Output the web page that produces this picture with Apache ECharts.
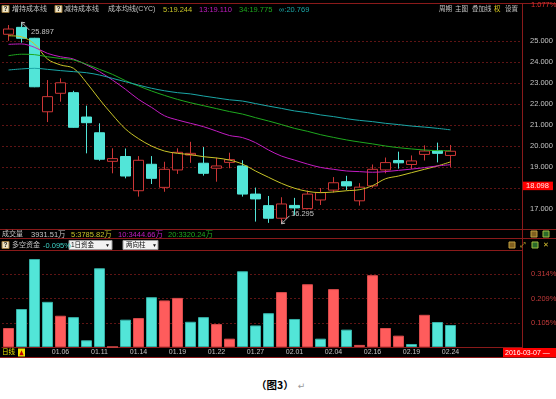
<!DOCTYPE html>
<html>
<head>
<meta charset="utf-8">
<script src="https://cdn.jsdelivr.net/npm/echarts@6.0.0/dist/echarts.min.js"></script>
<style>
body { margin: 0; background: #fff; }
#chart { position: absolute; left: 0; top: 0; width: 556px; height: 358px; }
#caption { position: absolute; left: 256px; top: 378px; font: bold 10.5px "Noto Sans CJK SC"; line-height: 13px; color: #000; white-space: nowrap; }
#caption span { color: #999; font-weight: normal; font-family: "DejaVu Sans"; font-size: 9px; margin-left: 4px; }
</style>
</head>
<body onload="onBodyLoad()">
<div id="chart"></div>
<div id="caption">（图3）<span>↵</span></div>
<script>
var dates = ["12.30", "12.31", "01.04", "01.05", "01.06", "01.07", "01.08", "01.11", "01.12", "01.13",
    "01.14", "01.15", "01.18", "01.19", "01.20", "01.21", "01.22", "01.25", "01.26", "01.27",
    "01.28", "01.29", "02.01", "02.02", "02.03", "02.04", "02.05", "02.15", "02.16", "02.17",
    "02.18", "02.19", "02.22", "02.23", "02.24"]
var emptySlots = 5

var openPrices = [25.32, 25.65, 25.13, 21.63, 22.51, 22.54, 21.38, 20.63, 19.27, 19.50,
    17.87, 19.13, 18.03, 18.86, 19.57, 19.18, 18.94, 19.22, 19.05, 17.71,
    17.16, 16.56, 17.17, 17.02, 17.43, 17.90, 18.30, 17.39, 18.10, 18.86,
    19.31, 19.12, 19.60, 19.78, 19.55]
var closePrices = [25.57, 25.13, 22.82, 22.35, 23.01, 20.89, 21.11, 19.37, 19.40, 18.57,
    19.32, 18.46, 18.89, 19.70, 19.65, 18.70, 19.05, 19.35, 17.71, 17.48,
    16.56, 17.24, 17.05, 17.71, 17.78, 18.25, 18.10, 18.04, 18.89, 19.21,
    19.20, 19.29, 19.76, 19.65, 19.75]
var lowPrices = [25.01, 24.92, 22.80, 21.14, 22.11, 20.87, 19.65, 19.30, 18.70, 18.46,
    17.59, 18.19, 17.82, 18.67, 19.20, 18.59, 18.30, 18.94, 17.59, 16.40,
    16.34, 16.295, 16.70, 17.00, 17.19, 17.78, 17.90, 17.16, 18.01, 18.70,
    18.92, 18.90, 19.31, 19.22, 18.99]
var highPrices = [25.76, 25.897, 25.15, 23.14, 23.22, 22.63, 21.92, 21.08, 19.89, 19.88,
    19.52, 19.52, 19.25, 19.89, 20.20, 19.95, 19.45, 19.68, 19.32, 18.02,
    17.62, 17.56, 17.53, 17.88, 18.00, 18.52, 18.58, 18.23, 19.12, 19.45,
    19.73, 19.55, 20.03, 20.16, 20.05]

// cost averages (CYC)
var cyc5 = [25.25, 25.20, 24.86, 24.14, 23.86, 23.70, 23.02, 22.22, 21.48, 20.81,
    20.35, 20.00, 19.76, 19.65, 19.59, 19.49, 19.43, 19.33, 19.14, 18.81,
    18.51, 18.22, 17.99, 17.84, 17.78, 17.81, 17.87, 17.92, 18.11, 18.44,
    18.57, 18.73, 18.89, 19.05, 19.244]
var cyc13 = [24.84, 24.86, 24.70, 24.41, 24.25, 24.14, 23.86, 23.54, 23.14, 22.70,
    22.22, 21.84, 21.44, 21.24, 21.08, 20.92, 20.71, 20.50, 20.40, 20.16,
    19.81, 19.52, 19.33, 19.14, 18.98, 18.89, 18.81, 18.78, 18.75, 18.78,
    18.84, 18.90, 18.97, 19.05, 19.110]
var cyc34 = [24.30, 24.37, 24.35, 24.25, 24.17, 24.10, 23.89, 23.65, 23.41, 23.11,
    22.86, 22.62, 22.41, 22.22, 22.06, 21.92, 21.78, 21.64, 21.52, 21.35,
    21.19, 21.02, 20.84, 20.70, 20.54, 20.41, 20.29, 20.19, 20.10, 20.00,
    19.92, 19.86, 19.81, 19.78, 19.775]
var cycInf = [23.62, 23.67, 23.70, 23.65, 23.59, 23.54, 23.49, 23.38, 23.22, 23.06,
    22.90, 22.75, 22.63, 22.54, 22.48, 22.38, 22.29, 22.20, 22.14, 22.02,
    21.90, 21.79, 21.67, 21.59, 21.48, 21.40, 21.30, 21.22, 21.16, 21.08,
    21.02, 20.95, 20.90, 20.84, 20.769]

// 多空资金 (%), positive = red bar, negative = cyan bar
var fundFlow = [0.082, -0.164, -0.380, -0.195, 0.135, -0.129, -0.029, -0.340, 0, -0.118,
    0.125, -0.215, 0.201, 0.212, -0.109, -0.129, 0.099, 0.036, -0.327, -0.093,
    -0.146, 0.237, -0.121, 0.271, -0.036, 0.250, -0.075, 0.009, 0.310, 0.082,
    0.049, -0.013, 0.139, -0.108, -0.095]

var priceMin = 16
var priceMax = 26
var priceStep = 1
var flowMax = 0.4188
var flowStep = 0.1047
var dateLabelFirst = 4
var dateLabelEvery = 3

var volumeTexts = ["3931.51万", "5:3785.82万", "10:3444.66万", "20:3320.24万"]
var cursorPrice = 18.098
var cursorDate = "2016-03-07"
var changeText = "1.077%"

var FONT = "'Liberation Sans', 'Noto Sans CJK SC'"
var upColor = "#cc3636"
var downColor = "#52e5d8"
var barRed = "#ff5c5c"
var frameColor = "#8a1a1a"
var gridColor = "#5e1414"
var textGray = "#c4c4c4"

var chart

function onBodyLoad() {
    chart = echarts.init(document.getElementById("chart"))
    chart.setOption(makeOption())
}

function last(arr) {
    return arr[arr.length - 1]
}

function txt(x, y, s, color, size, weight) {
    return {type: "text", x: x, y: y, z: 100, silent: true,
        style: {text: s, fill: color, fontSize: size || 7.5, fontFamily: FONT, fontWeight: weight || "normal", verticalAlign: "middle"}}
}

function hline(y, x1, x2) {
    return {type: "line", z: 90, silent: true, shape: {x1: x1, y1: y, x2: x2, y2: y}, style: {stroke: frameColor, lineWidth: 1}}
}

function box(x, y, w, h, fill, stroke) {
    return {type: "rect", z: 95, silent: true, shape: {x: x, y: y, width: w, height: h}, style: {fill: fill, stroke: stroke || null, lineWidth: 1}}
}

function helpIcon(x, y) {
    return [box(x, y, 7, 7, "#efe4c4", "#9a7a40"), txt(x + 1.6, y + 3.8, "?", "#222", 6.5, "bold")]
}

function makeGraphic() {
    var g = []
    // frame
    g.push(hline(3.5, 0, 556), hline(229.5, 0, 556), hline(238.5, 0, 556), hline(250.5, 0, 522), hline(357.5, 0, 556))
    g.push({type: "line", z: 90, silent: true, shape: {x1: 522.5, y1: 3, x2: 522.5, y2: 358}, style: {stroke: frameColor, lineWidth: 1}})

    // header of the price panel
    g = g.concat(helpIcon(2, 5.5))
    g.push(txt(12, 9.5, "增持成本线", textGray, 7))
    g = g.concat(helpIcon(55, 5.5))
    g.push(txt(64, 9.5, "减持成本线", textGray, 7))
    g.push(txt(108, 9.5, "成本均线(CYC)", textGray, 7))
    g.push(txt(163, 9.5, "5:" + last(cyc5).toFixed(3), "#c8c428", 7.5))
    g.push(txt(199, 9.5, "13:" + last(cyc13).toFixed(3), "#c21cc2", 7.5))
    g.push(txt(239, 9.5, "34:" + last(cyc34).toFixed(3), "#1ea81e", 7.5))
    g.push(txt(279, 9.5, "∞:" + last(cycInf).toFixed(3), "#1aa6a6", 7.5))
    g.push(txt(439, 9.5, "周期", textGray, 6.5))
    g.push(txt(455, 9.5, "主图", textGray, 6.5))
    g.push(txt(472, 9.5, "叠加线", textGray, 6.5))
    g.push(txt(494, 9.5, "权", "#e0d020", 6.5))
    g.push(txt(505, 9.5, "设置", textGray, 6.5))
    g.push(txt(531, 5, changeText, "#e03030", 7.5))

    // volume row
    g.push(txt(2, 234.5, "成交量", textGray, 7))
    g.push(txt(31, 234.5, volumeTexts[0], textGray, 7.5))
    g.push(txt(71, 234.5, volumeTexts[1], "#c8c428", 7.5))
    g.push(txt(118, 234.5, volumeTexts[2], "#c21cc2", 7.5))
    g.push(txt(168, 234.5, volumeTexts[3], "#1ea81e", 7.5))
    g.push(box(531, 231, 6, 6, "#806020", "#c0a040"), box(543, 231, 6, 6, "#2a6a2a", "#a0c040"))

    // fund flow row
    g = g.concat(helpIcon(2, 241.5))
    g.push(txt(12, 245.5, "多空资金", textGray, 7))
    g.push(txt(43, 245.5, last(fundFlow).toFixed(3) + "%", "#3ed2c6", 7.5))
    g.push(box(69, 240.5, 43, 9, "#f2f2f2", "#9a9a9a"), txt(71, 245.3, "1日资金", "#111", 6.5), txt(105, 245.3, "▼", "#111", 5))
    g.push(box(123, 240.5, 35, 9, "#f2f2f2", "#9a9a9a"), txt(126, 245.3, "两向柱", "#111", 6.5), txt(152, 245.3, "▼", "#111", 5))
    g.push(box(509, 242, 6, 6, "#806020", "#c0a040"), box(532, 242, 6, 6, "#2a6a2a", "#a0c040"))
    g.push(txt(520, 245.5, "⤢", "#d8c030", 7), txt(543, 245.5, "✕", "#d8c030", 7))

    // date axis row
    g.push(txt(2, 352.5, "日线", "#e8e000", 6.5))
    g.push(box(18, 348.5, 7, 8, "#f0e000"))
    g.push({type: "polygon", z: 96, silent: true, shape: {points: [[19.3, 355.3], [21.5, 350.2], [23.7, 355.3]]}, style: {fill: "#c00000"}})
    g.push(box(503, 348, 53, 9, "#ff0000"))
    g.push(txt(505, 352.7, cursorDate + " —", "#ffffff", 7))
    return g
}

function makeOption() {
    var cats = dates.slice()
    for (var i = 0; i < emptySlots; i++) {
        cats.push(" ".repeat(i + 1))
    }
    var candles = []
    for (var i = 0; i < dates.length; i++) {
        candles.push([openPrices[i], closePrices[i], lowPrices[i], highPrices[i]])
    }
    var flowBars = fundFlow.map(function (v) {
        return {value: Math.abs(v), itemStyle: {color: v >= 0 ? barRed : downColor, borderColor: v >= 0 ? "#d84a4a" : "#35b0a6", borderWidth: 1}}
    })

    var maxArrow = "path://M0,0 L10,10 M0,0 L4.5,0.8 M0,0 L0.8,4.5"
    var minArrow = "path://M0,10 L10,0 M0,10 L0.8,5.5 M0,10 L4.5,9.2"
    var markLabel = {show: true, position: "right", distance: 1, color: textGray, fontSize: 7.5, fontFamily: FONT,
        formatter: function (p) { return p.value.toFixed(3) }}

    function cycLine(name, data, color) {
        return {name: name, type: "line", xAxisIndex: 0, yAxisIndex: 0, data: data, symbol: "none", smooth: 0.35,
            silent: true, lineStyle: {color: color, width: 1}, z: 5}
    }

    return {
        backgroundColor: "#000",
        animation: false,
        textStyle: {fontFamily: FONT},
        grid: [
            {left: 2, top: 20, width: 520, height: 210, outerBoundsMode: "none"},
            {left: 2, top: 250, width: 520, height: 97, outerBoundsMode: "none"}
        ],
        xAxis: [
            {type: "category", gridIndex: 0, data: cats, boundaryGap: true,
                axisLine: {show: false}, axisTick: {show: false}, axisLabel: {show: false}, splitLine: {show: false}},
            {type: "category", gridIndex: 1, data: cats, boundaryGap: true,
                axisLine: {show: true, lineStyle: {color: frameColor, width: 1}}, axisTick: {show: false}, splitLine: {show: false},
                axisLabel: {color: textGray, fontSize: 7, fontFamily: FONT, margin: 2,
                    interval: function (idx) { return idx < dates.length && idx >= dateLabelFirst && (idx - dateLabelFirst) % dateLabelEvery == 0 }}}
        ],
        yAxis: [
            {type: "value", gridIndex: 0, position: "right", min: priceMin, max: priceMax, interval: priceStep, scale: true,
                axisLine: {show: false}, axisTick: {show: false},
                axisLabel: {color: textGray, fontSize: 7.5, fontFamily: FONT, margin: 8, showMinLabel: false, showMaxLabel: false,
                    formatter: function (v) { return v.toFixed(3) }},
                splitLine: {show: true, showMinLine: false, showMaxLine: false, lineStyle: {color: gridColor, type: [2, 2], width: 1}}},
            {type: "value", gridIndex: 1, position: "right", min: 0, max: flowMax, interval: flowStep,
                axisLine: {show: false}, axisTick: {show: false},
                axisLabel: {color: "#c23a3a", fontSize: 7.5, fontFamily: FONT, margin: 9, showMinLabel: false, showMaxLabel: false,
                    formatter: function (v) { return v.toFixed(3) + "%" }},
                splitLine: {show: true, showMinLine: false, showMaxLine: false, lineStyle: {color: gridColor, type: [2, 2], width: 1}}}
        ],
        series: [
            {
                name: "K", type: "candlestick", xAxisIndex: 0, yAxisIndex: 0, data: candles, barWidth: 11, silent: true, z: 3,
                itemStyle: {color: "#000", color0: downColor, borderColor: upColor, borderColor0: downColor, borderWidth: 1},
                markPoint: {
                    silent: true,
                    itemStyle: {color: "rgba(0,0,0,0)", borderColor: "#bdbdbd", borderWidth: 1},
                    data: [
                        {type: "max", valueDim: "highest", symbol: maxArrow, symbolSize: [8, 8], symbolOffset: [4, 4],
                            label: Object.assign({offset: [0, 6]}, markLabel)},
                        {type: "min", valueDim: "lowest", symbol: minArrow, symbolSize: [8, 8], symbolOffset: [4, -4],
                            label: Object.assign({offset: [0, -6]}, markLabel)}
                    ]
                },
                markLine: {
                    silent: true, symbol: ["none", "none"],
                    lineStyle: {color: "rgba(0,0,0,0)", width: 0},
                    label: {show: true, position: "end", distance: 1, formatter: cursorPrice.toFixed(3),
                        color: "#ffe8e8", backgroundColor: "#ff0000", padding: [1, 4, 0, 3], fontSize: 7.5, fontFamily: FONT},
                    data: [{yAxis: cursorPrice}]
                }
            },
            cycLine("CYC5", cyc5, "#c8c428"),
            cycLine("CYC13", cyc13, "#c21cc2"),
            cycLine("CYC34", cyc34, "#1ea81e"),
            cycLine("CYC∞", cycInf, "#1aa6a6"),
            {name: "多空资金", type: "bar", xAxisIndex: 1, yAxisIndex: 1, data: flowBars, barWidth: 11, silent: true}
        ],
        graphic: makeGraphic()
    }
}
</script>
</body>
</html>
